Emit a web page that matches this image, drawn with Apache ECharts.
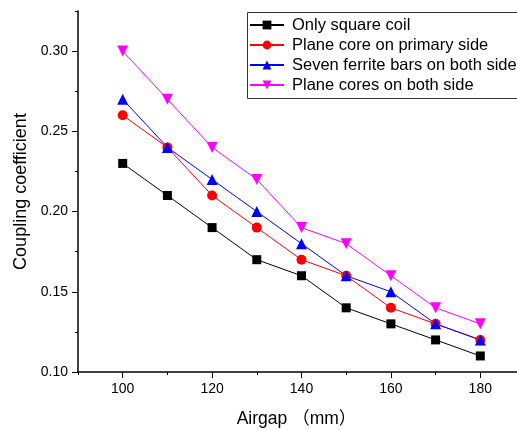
<!DOCTYPE html>
<html>
<head>
<meta charset="utf-8">
<script src="https://cdn.jsdelivr.net/npm/echarts@6/dist/echarts.min.js"></script>
<style>
  html, body { margin: 0; padding: 0; background: #fff; }
  #main { width: 517px; height: 430px; }
</style>
</head>
<body>
<div id="main"></div>
<script>
var airgap = [100, 110, 120, 130, 140, 150, 160, 170, 180];
var onlySquareCoil = [0.23, 0.21, 0.19, 0.17, 0.16, 0.14, 0.13, 0.12, 0.11];
var planeCorePrimary = [0.26, 0.24, 0.21, 0.19, 0.17, 0.16, 0.14, 0.13, 0.12];
var sevenFerriteBars = [0.27, 0.24, 0.22, 0.20, 0.18, 0.16, 0.15, 0.13, 0.12];
var planeCoresBoth = [0.30, 0.27, 0.24, 0.22, 0.19, 0.18, 0.16, 0.14, 0.13];

var xMajor = [100, 120, 140, 160, 180];
var xMinor = [90, 110, 130, 150, 170, 190];
var yMajor = [0.10, 0.15, 0.20, 0.25, 0.30];
var yMinor = [0.125, 0.175, 0.225, 0.275, 0.325];

function pairs(ys) {
  return airgap.map(function (x, i) { return [x, ys[i]]; });
}

var font = 'Arial, "Liberation Sans", "Noto Sans CJK SC", sans-serif';

var chartDom = document.getElementById('main');
var myChart = echarts.init(chartDom);
var option;

function line(name, data, color, symbol, size, rotate) {
  return {
    name: name,
    type: 'line',
    data: pairs(data),
    symbol: symbol,
    symbolSize: size,
    symbolRotate: rotate || 0,
    showSymbol: true,
    animation: false,
    lineStyle: { color: color, width: 1 },
    itemStyle: { color: color, borderWidth: 0 }
  };
}

option = {
  backgroundColor: '#fff',
  grid: {
    left: 78, top: 11, right: -8, bottom: 58,
    containLabel: false,
    outerBoundsMode: 'none'
  },
  // legend frame runs off the right edge, like the original
  graphic: [{
    type: 'rect',
    z: 100,
    shape: { x: 247.5, y: 12.5, width: 320, height: 86 },
    style: { fill: 'none', stroke: '#333', lineWidth: 1 }
  }],
  legend: {
    orient: 'vertical',
    left: 247,
    top: 13,
    padding: [3, 2, 3, 2],
    itemGap: 2,
    itemWidth: 34,
    itemHeight: 11,
    borderWidth: 0,
    textStyle: { fontFamily: font, fontSize: 16.5, color: '#000', padding: [0, 0, 0, 3], lineHeight: 18 },
    data: [
      { name: 'Only square coil' },
      { name: 'Plane core on primary side' },
      { name: 'Seven ferrite bars on both side' },
      { name: 'Plane cores on both side' }
    ]
  },
  xAxis: [
    {
      type: 'value',
      min: 90,
      max: 190,
      interval: 10,
      name: 'Airgap （mm）',
      nameLocation: 'middle',
      nameGap: 38,
      nameTextStyle: { fontFamily: font, fontSize: 17.5, color: '#000', padding: [0, 10, 0, 0] },
      axisLine: { lineStyle: { color: '#000', width: 1.5 } },
      axisTick: { show: true, length: 6, customValues: xMajor, lineStyle: { color: '#000', width: 1 } },
      axisLabel: { customValues: xMajor, fontFamily: font, fontSize: 14, color: '#000', margin: 10 },
      splitLine: { show: false }
    },
    {
      type: 'value',
      min: 90,
      max: 190,
      interval: 10,
      position: 'bottom',
      axisLine: { show: false },
      axisTick: { show: true, length: 3, customValues: xMinor, lineStyle: { color: '#000', width: 1 } },
      axisLabel: { show: false },
      splitLine: { show: false }
    }
  ],
  yAxis: [
    {
      type: 'value',
      min: 0.10,
      max: 0.325,
      interval: 0.025,
      name: 'Coupling coefficient',
      nameLocation: 'middle',
      nameGap: 48,
      nameTextStyle: { fontFamily: font, fontSize: 18, color: '#000' },
      axisLine: { show: true, lineStyle: { color: '#000', width: 1.5 } },
      axisTick: { show: true, length: 6, customValues: yMajor, lineStyle: { color: '#000', width: 1 } },
      axisLabel: {
        customValues: yMajor,
        fontFamily: font, fontSize: 14, color: '#000', margin: 10,
        formatter: function (v) { return v.toFixed(2); }
      },
      splitLine: { show: false }
    },
    {
      type: 'value',
      min: 0.10,
      max: 0.325,
      interval: 0.025,
      position: 'left',
      axisLine: { show: false },
      axisTick: { show: true, length: 3, customValues: yMinor, lineStyle: { color: '#000', width: 1 } },
      axisLabel: { show: false },
      splitLine: { show: false }
    }
  ],
  series: [
    line('Only square coil', onlySquareCoil, '#000000', 'rect', 9),
    line('Plane core on primary side', planeCorePrimary, '#ff0000', 'circle', 10),
    line('Seven ferrite bars on both side', sevenFerriteBars, '#0000ff', 'triangle', 11),
    line('Plane cores on both side', planeCoresBoth, '#ff00ff', 'triangle', 11, 180)
  ]
};

option && myChart.setOption(option);
</script>
</body>
</html>
